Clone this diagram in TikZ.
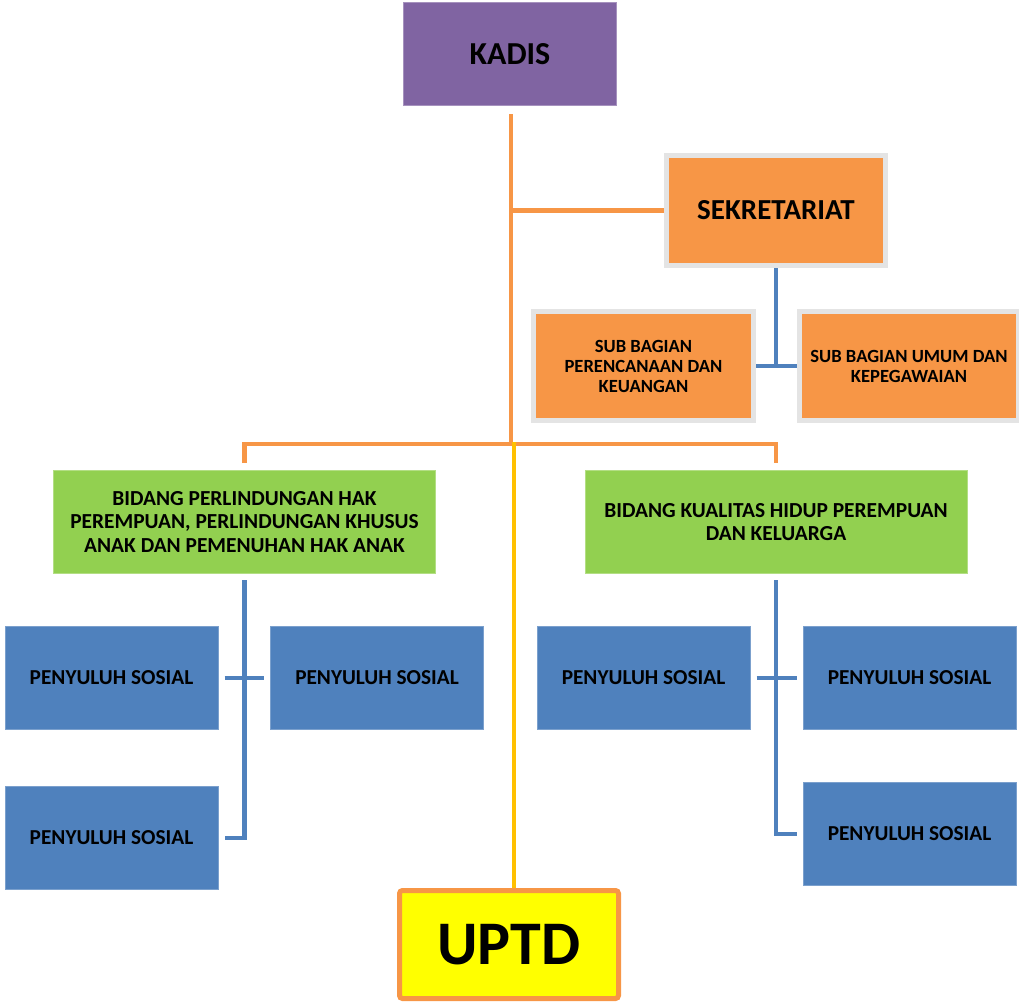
\documentclass[tikz,border=0pt]{standalone}
\usepackage{fontspec}
\setmainfont{Carlito}
\definecolor{cpurple}{HTML}{8064A2}
\definecolor{corange}{HTML}{F79646}
\definecolor{cframe}{HTML}{E4E4E4}
\definecolor{cgreen}{HTML}{92D050}
\definecolor{cblue}{HTML}{4F81BD}
\definecolor{cyellow}{HTML}{FFFF00}
\definecolor{cyline}{HTML}{FFC000}
\begin{document}
\begin{tikzpicture}[x=1pt,y=-1pt,
  box/.style={rectangle, inner sep=0pt, align=center, font=\bfseries},
  kadisbox/.style={box, fill=cpurple, draw=cpurple!70!white, line width=1pt,
     minimum width=213pt, minimum height=103pt, font=\bfseries\fontsize{32}{34}\selectfont},
  framebox/.style={box, fill=corange, draw=cframe, line width=5pt},
  greenbox/.style={box, fill=cgreen, draw=cgreen!70!white, line width=1pt,
     minimum width=382pt, minimum height=103pt, font=\bfseries\fontsize{21.4}{23.5}\selectfont},
  bluebox/.style={box, fill=cblue, draw=cblue!75!white, line width=1pt,
     minimum width=213pt, minimum height=103pt, font=\bfseries\fontsize{21.3}{23}\selectfont},
  oline/.style={draw=corange, line width=4.5pt},
  yline/.style={draw=cyline, line width=4.5pt},
  bline/.style={draw=cblue, line width=4.5pt}]
\useasboundingbox (0,0) rectangle (1019,1004);

% nodes
\node[kadisbox] (kadis) at (510,54) {KADIS};
\node[framebox, minimum width=219pt, minimum height=110pt,
      font=\bfseries\fontsize{29}{31}\selectfont] (sek) at (776,210.5) {SEKRETARIAT};
\node[framebox, minimum width=220pt, minimum height=109pt,
      font=\bfseries\fontsize{18.6}{20}\selectfont] (subL) at (643.5,366) {SUB BAGIAN\\PERENCANAAN DAN\\KEUANGAN};
\node[framebox, minimum width=219pt, minimum height=109pt,
      font=\bfseries\fontsize{18.6}{20}\selectfont] (subR) at (909,366) {SUB BAGIAN UMUM DAN\\KEPEGAWAIAN};
\node[greenbox] (bidL) at (244.5,522) {BIDANG PERLINDUNGAN HAK\\PEREMPUAN, PERLINDUNGAN KHUSUS\\ANAK DAN PEMENUHAN HAK ANAK};
\node[greenbox] (bidR) at (776,522) {BIDANG KUALITAS HIDUP PEREMPUAN\\DAN KELUARGA};
\node[bluebox] (psL1) at (111.5,678) {PENYULUH SOSIAL};
\node[bluebox] (psL2) at (377,678) {PENYULUH SOSIAL};
\node[bluebox] (psL3) at (111.5,838) {PENYULUH SOSIAL};
\node[bluebox] (psR1) at (643.5,678) {PENYULUH SOSIAL};
\node[bluebox] (psR2) at (909.5,678) {PENYULUH SOSIAL};
\node[bluebox] (psR3) at (909.5,834) {PENYULUH SOSIAL};
\node[box, fill=cyellow, draw=corange, line width=5pt, rounded corners=3pt,
      minimum width=219pt, minimum height=108pt,
      font=\bfseries\fontsize{62}{64}\selectfont] (uptd) at (509,944.5) {UPTD};

\coordinate (bar) at (511,444);

% orange connectors
\draw[oline, shorten <=8pt] ([xshift=1pt]kadis.south) -- ([xshift=1pt]kadis.south |- bar);
\draw[oline] ([xshift=1pt]kadis.south |- sek.west) -- (sek.west);
\draw[oline, shorten <=7pt, shorten >=7pt] (bidL.north) |- (bar) -| (bidR.north);
% yellow connector
\draw[yline] ([xshift=3pt,yshift=2pt]bar) -- ([xshift=3pt]bar |- uptd.north);
% blue connectors
\draw[bline] (sek.south) -- (sek.south |- subL.east);
\draw[bline] (subL.east) -- (subR.west);
\draw[bline, line join=miter, shorten <=6pt, shorten >=6pt] (bidL.south) |- (psL3.east);
\draw[bline, shorten <=6pt, shorten >=6pt] (psL1.east) -- (psL2.west);
\draw[bline, line join=miter, shorten <=6pt, shorten >=6pt] (bidR.south) |- (psR3.west);
\draw[bline, shorten <=6pt, shorten >=6pt] (psR1.east) -- (psR2.west);
\end{tikzpicture}
\end{document}
